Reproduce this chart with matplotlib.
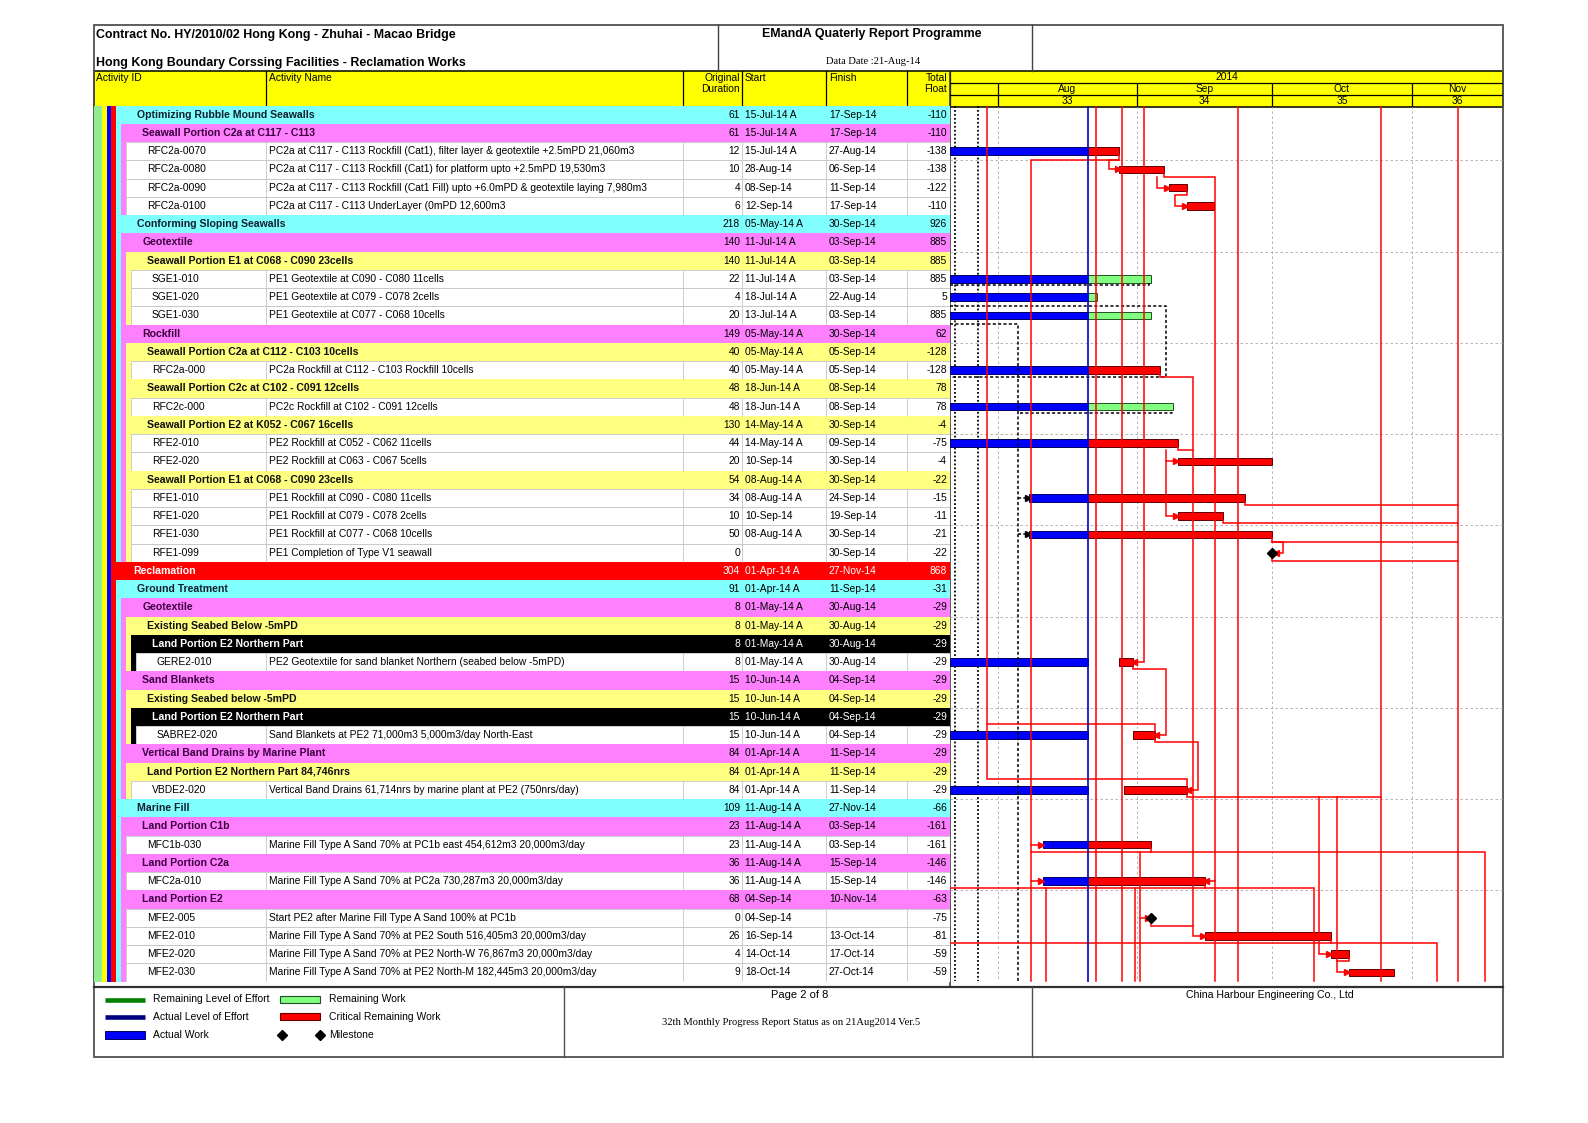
#!/usr/bin/python3
import datetime as dt

import matplotlib
matplotlib.use("Agg")
import matplotlib.pyplot as plt
from matplotlib.patches import Rectangle

plt.rcParams['font.family'] = ['Liberation Sans', 'DejaVu Sans']

# ---- schedule rows, top to bottom ----
# level: outline level of a band row (ids == ''), or the parent level of a task row
ids = ['', '', 'RFC2a-0070', 'RFC2a-0080', 'RFC2a-0090', 'RFC2a-0100',
       '', '', '', 'SGE1-010', 'SGE1-020', 'SGE1-030',
       '', '', 'RFC2a-000', '', 'RFC2c-000', '', 'RFE2-010', 'RFE2-020',
       '', 'RFE1-010', 'RFE1-020', 'RFE1-030', 'RFE1-099',
       '', '', '', '', '', 'GERE2-010', '', '', '', 'SABRE2-020',
       '', '', 'VBDE2-020', '', '', 'MFC1b-030', '', 'MFC2a-010', '',
       'MFE2-005', 'MFE2-010', 'MFE2-020', 'MFE2-030']
names = ['Optimizing Rubble Mound Seawalls',
         'Seawall Portion C2a at C117 - C113',
         'PC2a at C117 - C113 Rockfill (Cat1), filter layer & geotextile +2.5mPD 21,060m3',
         'PC2a at C117 - C113 Rockfill (Cat1) for platform upto +2.5mPD 19,530m3',
         'PC2a at C117 - C113 Rockfill (Cat1 Fill) upto +6.0mPD & geotextile laying 7,980m3',
         'PC2a at C117 - C113 UnderLayer (0mPD 12,600m3',
         'Conforming Sloping Seawalls',
         'Geotextile',
         'Seawall Portion E1 at C068 - C090 23cells',
         'PE1 Geotextile at C090 - C080 11cells',
         'PE1 Geotextile at C079 - C078 2cells',
         'PE1 Geotextile at C077 - C068 10cells',
         'Rockfill',
         'Seawall Portion C2a at C112 - C103 10cells',
         'PC2a Rockfill at C112 - C103 Rockfill 10cells',
         'Seawall Portion C2c at C102 - C091 12cells',
         'PC2c Rockfill at C102 - C091 12cells',
         'Seawall Portion E2 at K052 - C067 16cells',
         'PE2 Rockfill at C052 - C062 11cells',
         'PE2 Rockfill at C063 - C067 5cells',
         'Seawall Portion E1 at C068 - C090 23cells',
         'PE1 Rockfill at C090 - C080 11cells',
         'PE1 Rockfill at C079 - C078 2cells',
         'PE1 Rockfill at C077 - C068 10cells',
         'PE1 Completion of Type V1 seawall',
         'Reclamation',
         'Ground Treatment',
         'Geotextile',
         'Existing Seabed Below -5mPD',
         'Land Portion E2 Northern Part',
         'PE2 Geotextile for sand blanket Northern (seabed below -5mPD)',
         'Sand Blankets',
         'Existing Seabed below -5mPD',
         'Land Portion E2 Northern Part',
         'Sand Blankets at PE2 71,000m3 5,000m3/day North-East',
         'Vertical Band Drains by Marine Plant',
         'Land Portion E2 Northern Part 84,746nrs',
         'Vertical Band Drains 61,714nrs by marine plant at PE2 (750nrs/day)',
         'Marine Fill',
         'Land Portion C1b',
         'Marine Fill Type A Sand 70% at PC1b east 454,612m3 20,000m3/day',
         'Land Portion C2a',
         'Marine Fill Type A Sand 70% at PC2a 730,287m3 20,000m3/day',
         'Land Portion E2',
         'Start PE2 after Marine Fill Type A Sand 100% at PC1b',
         'Marine Fill Type A Sand 70% at PE2 South 516,405m3 20,000m3/day',
         'Marine Fill Type A Sand 70% at PE2 North-W 76,867m3 20,000m3/day',
         'Marine Fill Type A Sand 70% at PE2 North-M 182,445m3 20,000m3/day']
levels = [4, 5, 5, 5, 5, 5, 4, 5, 6, 6, 6, 6, 5, 6, 6, 6, 6, 6, 6, 6, 6, 6, 6, 6, 6,
          3, 4, 5, 6, 7, 7, 5, 6, 7, 7, 5, 6, 6, 4, 5, 5, 5, 5, 5, 5, 5, 5, 5]
durations = [61, 61, 12, 10, 4, 6, 218, 140, 140, 22, 4, 20, 149, 40, 40, 48, 48,
             130, 44, 20, 54, 34, 10, 50, 0, 304, 91, 8, 8, 8, 8, 15, 15, 15, 15,
             84, 84, 84, 109, 23, 23, 36, 36, 68, 0, 26, 4, 9]
starts = ['15-Jul-14 A', '15-Jul-14 A', '15-Jul-14 A', '28-Aug-14', '08-Sep-14',
          '12-Sep-14', '05-May-14 A', '11-Jul-14 A', '11-Jul-14 A', '11-Jul-14 A',
          '18-Jul-14 A', '13-Jul-14 A', '05-May-14 A', '05-May-14 A', '05-May-14 A',
          '18-Jun-14 A', '18-Jun-14 A', '14-May-14 A', '14-May-14 A', '10-Sep-14',
          '08-Aug-14 A', '08-Aug-14 A', '10-Sep-14', '08-Aug-14 A', '',
          '01-Apr-14 A', '01-Apr-14 A', '01-May-14 A', '01-May-14 A', '01-May-14 A',
          '01-May-14 A', '10-Jun-14 A', '10-Jun-14 A', '10-Jun-14 A', '10-Jun-14 A',
          '01-Apr-14 A', '01-Apr-14 A', '01-Apr-14 A', '11-Aug-14 A', '11-Aug-14 A',
          '11-Aug-14 A', '11-Aug-14 A', '11-Aug-14 A', '04-Sep-14', '04-Sep-14',
          '16-Sep-14', '14-Oct-14', '18-Oct-14']
finishes = ['17-Sep-14', '17-Sep-14', '27-Aug-14', '06-Sep-14', '11-Sep-14',
            '17-Sep-14', '30-Sep-14', '03-Sep-14', '03-Sep-14', '03-Sep-14',
            '22-Aug-14', '03-Sep-14', '30-Sep-14', '05-Sep-14', '05-Sep-14',
            '08-Sep-14', '08-Sep-14', '30-Sep-14', '09-Sep-14', '30-Sep-14',
            '30-Sep-14', '24-Sep-14', '19-Sep-14', '30-Sep-14', '30-Sep-14',
            '27-Nov-14', '11-Sep-14', '30-Aug-14', '30-Aug-14', '30-Aug-14',
            '30-Aug-14', '04-Sep-14', '04-Sep-14', '04-Sep-14', '04-Sep-14',
            '11-Sep-14', '11-Sep-14', '11-Sep-14', '27-Nov-14', '03-Sep-14',
            '03-Sep-14', '15-Sep-14', '15-Sep-14', '10-Nov-14', '',
            '13-Oct-14', '17-Oct-14', '27-Oct-14']
floats = [-110, -110, -138, -138, -122, -110, 926, 885, 885, 885, 5, 885, 62,
          -128, -128, 78, 78, -4, -75, -4, -22, -15, -11, -21, -22, 868, -31,
          -29, -29, -29, -29, -29, -29, -29, -29, -29, -29, -29, -66, -161, -161,
          -146, -146, -63, -75, -81, -59, -59]
# remaining work that does not resume at the data date
remaining_start = {30: '28-Aug-14', 34: '31-Aug-14', 37: '29-Aug-14'}
data_date = '21-Aug-14'

months = ['Aug', 'Sep', 'Oct', 'Nov']
weeks = ['33', '34', '35', '36']
month_starts = ['01-Aug-14', '01-Sep-14', '01-Oct-14', '01-Nov-14']

# logic lines: vertices (days after 1-Aug-14, row), arrow head at the end
links = [
    ([(-2.35, 0), (-2.35, 36.9), (42, 36.9), (42, 37.3)], None),
    ([(-2.35, 33.9), (35, 33.9), (35, 34.3)], None),
    ([(21.95, 0), (21.95, 48)], None),
    ([(27.6, 0), (27.6, 48)], None),
    ([(32.5, 0), (32.5, 30.5), (30.3, 30.5)], '<'),
    ([(53.5, 0), (53.5, 48)], None),
    ([(85.25, 0), (85.25, 48)], None),
    ([(102.3, 0), (102.3, 48)], None),
    ([(27, 2.7), (27, 2.97), (7.5, 2.97), (7.5, 48)], None),
    ([(27, 2.97), (24.7, 2.97), (24.7, 3.5), (26.7, 3.5)], '>'),
    ([(37, 3.7), (37, 3.9), (48.4, 3.9), (48.4, 48)], None),
    ([(35.4, 3.9), (35.4, 4.5), (37.7, 4.5)], '>'),
    ([(42, 4.7), (42, 4.9), (39.4, 4.9), (39.4, 5.5), (41.7, 5.5)], '>'),
    ([(36, 14.7), (36, 14.9), (43.4, 14.9), (43.4, 45.5), (45.7, 45.5)], '>'),
    ([(40, 18.7), (40, 18.9), (43.4, 18.9)], None),
    ([(37.4, 18.9), (37.4, 19.5), (39.7, 19.5)], '>'),
    ([(37.4, 19.5), (37.4, 22.5), (39.7, 22.5)], '>'),
    ([(55, 21.7), (55, 21.9), (102.3, 21.9)], None),
    ([(50, 22.7), (50, 22.9), (102.3, 22.9)], None),
    ([(61, 23.7), (61, 23.9), (102.3, 23.9)], None),
    ([(61, 23.9), (63.4, 23.9), (63.4, 24.5), (61.8, 24.5)], '<'),
    ([(61, 24.7), (61, 24.95), (102.3, 24.95)], None),
    ([(30, 30.7), (30, 30.9), (37.4, 30.9), (37.4, 34.5), (35.3, 34.5)], '<'),
    ([(35, 34.7), (35, 34.9), (44.5, 34.9), (44.5, 37.5), (42.3, 37.5)], '<'),
    ([(42, 37.7), (42, 37.9), (85.25, 37.9)], None),
    ([(71.4, 37.9), (71.4, 46.5), (73.7, 46.5)], '>'),
    ([(75.4, 37.9), (75.4, 47.5), (77.7, 47.5)], '>'),
    ([(7.5, 40.5), (9.7, 40.5)], '>'),
    ([(7.5, 42.5), (9.7, 42.5)], '>'),
    ([(7.5, 40.9), (108.3, 40.9), (108.3, 48)], None),
    ([(34, 40.7), (34, 40.9)], None),
    ([(31.6, 40.9), (31.6, 48)], None),
    ([(31.6, 44.5), (33.4, 44.5)], '>'),
    ([(48.4, 42.5), (46.3, 42.5)], '<'),
    ([(46, 42.7), (46, 42.9)], None),
    ([(-10.6, 42.9), (70.3, 42.9), (70.3, 48)], None),
    ([(10.75, 42.9), (10.75, 48)], None),
    ([(30.5, 42.9), (30.5, 48)], None),
    ([(34, 44.7), (34, 44.95), (43.4, 44.95)], None),
    ([(74, 45.7), (74, 45.9)], None),
    ([(-10.6, 45.9), (97.6, 45.9), (97.6, 48)], None),
    ([(78, 46.7), (78, 46.9), (75.4, 46.9)], None),
]
# target (baseline) outlines and their logic, dashed black
baseline_links = [
    ([(-10.6, 9.85), (33.7, 9.85), (33.7, 9.7)], None),
    ([(-10.6, 11.0), (37.4, 11.0), (37.4, 14.9), (-10.6, 14.9)], None),
    ([(-10.6, 11.95), (4.5, 11.95), (4.5, 48)], None),
    ([(5, 16.85), (38.7, 16.85), (38.7, 16.7)], None),
    ([(4.5, 21.5), (6.7, 21.5)], '>'),
    ([(4.5, 23.5), (6.7, 23.5)], '>'),
]

# ---- layout (pixels of the 1588x1123 page) ----
W, H = 1588, 1123
LEFT, RIGHT, TOP, BOTTOM = 94, 1503, 25, 1057
HEAD_Y0, HEAD_Y1 = 70.7, 107
ROW_TOP, ROW_BOT = 105.5, 981.5
GANTT_L = 950
col_x = [266, 683, 742, 826, 907]
stripe_x = [94.5, 102.5, 107.5, 111.5, 116, 121, 126, 131, 136]
level_colors = ['#90EE90', '#FFFF00', '#0000FF', '#FF0000', '#80FFFF',
                '#FF80FF', '#FFFF80', '#000000']
band_fg = {3: 'white', 4: '#102030', 5: '#3C0040', 6: '#101010', 7: 'white'}
FS = 7.35
FS_B = 7.6
AUG1 = dt.datetime(2014, 8, 1)
X0, X1 = -10.58, 112.3


def day(s):
    return (dt.datetime.strptime(s[:9], '%d-%b-%y') - AUG1).days


fig = plt.figure(figsize=(W / 100, H / 100), dpi=100)


def fax(x0, y0, x1, y1):
    a = fig.add_axes([x0 / W, 1 - y1 / H, (x1 - x0) / W, (y1 - y0) / H])
    a.axis('off')
    return a


bg = fax(0, 0, W, H)
bg.set_xlim(0, W)
bg.set_ylim(H, 0)

n = len(ids)
tax = fax(LEFT, ROW_TOP, GANTT_L, ROW_BOT)
tax.set_xlim(LEFT, GANTT_L)
tax.set_ylim(n, 0)
gax = fax(GANTT_L, ROW_TOP, RIGHT, ROW_BOT)
gax.set_xlim(X0, X1)
gax.set_ylim(n, 0)
hax = fax(GANTT_L, HEAD_Y0, RIGHT, HEAD_Y1)
hax.set_xlim(X0, X1)
hax.set_ylim(3, 0)

# ---- page header ----
serif = ['Liberation Serif', 'DejaVu Serif']
bg.text(96, 35, 'Contract No. HY/2010/02 Hong Kong - Zhuhai - Macao Bridge',
        fontsize=8.9, weight='bold', va='center')
bg.text(96, 63, 'Hong Kong Boundary Corssing Facilities - Reclamation Works',
        fontsize=8.9, weight='bold', va='center')
bg.text(872, 34.5, 'EMandA Quaterly Report Programme', fontsize=8.9, weight='bold',
        ha='center', va='center')
bg.text(873, 61.5, 'Data Date :' + data_date, fontsize=7.6, ha='center', va='center',
        family=serif)
bg.plot([717.7, 717.7], [TOP, HEAD_Y0], color='#404040', lw=1)
bg.plot([1031.7, 1031.7], [TOP, HEAD_Y0], color='#404040', lw=1)

# ---- column header ----
bg.add_patch(Rectangle((LEFT, HEAD_Y0), RIGHT - LEFT, HEAD_Y1 - HEAD_Y0,
                       facecolor='#FFFF00', edgecolor='black', lw=1.1))
for x in col_x + [GANTT_L]:
    bg.plot([x, x], [HEAD_Y0, HEAD_Y1], color='black', lw=0.9)
hdr = dict(fontsize=FS, va='top')
bg.text(95.5, 72.8, 'Activity ID', **hdr)
bg.text(269, 72.8, 'Activity Name', **hdr)
bg.text(740, 72.8, 'Original\nDuration', ha='right', linespacing=1.2, **hdr)
bg.text(745, 72.8, 'Start', **hdr)
bg.text(829, 72.8, 'Finish', **hdr)
bg.text(947, 72.8, 'Total\nFloat', ha='right', linespacing=1.2, **hdr)

# timescale header
hax.axhline(1, color='black', lw=0.9)
hax.axhline(2, color='black', lw=0.9)
ms = [day(m) for m in month_starts]
hax.vlines(ms, 1, 3, colors='black', lw=0.9)
hax.text((X0 + X1) / 2, 0.5, '2014', fontsize=FS, ha='center', va='center')
edges = ms + [X1]
for k in range(len(months)):
    cx = (edges[k] + edges[k + 1]) / 2
    hax.text(cx, 1.5, months[k], fontsize=FS, ha='center', va='center')
    hax.text(cx, 2.5, weeks[k], fontsize=FS, ha='center', va='center')

# ---- table body ----
for i in range(n):
    lv = levels[i]
    band = ids[i] == ''
    last = lv if band else lv + 1
    for j in range(last):
        tax.add_patch(Rectangle((stripe_x[j], i), stripe_x[j + 1] - stripe_x[j], 1,
                                facecolor=level_colors[j], lw=0))
    cy = i + 0.5
    if band:
        tax.add_patch(Rectangle((stripe_x[lv], i), GANTT_L - stripe_x[lv], 1,
                                facecolor=level_colors[lv], lw=0))
        fg = band_fg[lv]
        tax.text(stripe_x[lv] + 21.5, cy, names[i], fontsize=FS_B, weight='bold',
                 color=fg, va='center')
        num_fg = fg if lv in (3, 7) else 'black'
    else:
        x0 = stripe_x[lv + 1]
        tax.add_patch(Rectangle((x0, i), GANTT_L - x0, 1, facecolor='white',
                                edgecolor='#C4C4C4', lw=0.6))
        tax.vlines(col_x, i, i + 1, colors='#C4C4C4', lw=0.6)
        tax.text(x0 + 21, cy, ids[i], fontsize=FS, va='center')
        tax.text(269.5, cy, names[i], fontsize=FS, va='center')
        num_fg = 'black'
    tax.text(740, cy, str(durations[i]), fontsize=FS, ha='right', va='center', color=num_fg)
    tax.text(745, cy, starts[i], fontsize=FS, va='center', color=num_fg)
    tax.text(829, cy, finishes[i], fontsize=FS, va='center', color=num_fg)
    tax.text(947, cy, str(floats[i]), fontsize=FS, ha='right', va='center', color=num_fg)

# ---- gantt ----
gax.vlines(ms, 0, n, colors='#A8A8A8', linestyles=(0, (3, 3)), lw=0.6, zorder=1)
gax.hlines(range(3, n, 5), X0, X1, colors='#A8A8A8', linestyles=(0, (3, 3)), lw=0.6, zorder=1)
gax.vlines([-9.55, -4.3], 0, n, colors='black', linestyles=(0, (1, 1.2)), lw=1.3, zorder=1)

dd = day(data_date)
BH = 0.42
for i in range(n):
    if ids[i] == '':
        continue
    if durations[i] == 0:
        x = day(finishes[i]) + 1 if finishes[i] else day(starts[i])
        gax.plot(x, i + 0.5, marker='D', ms=5, color='black', zorder=5)
        continue
    end = day(finishes[i]) + 1
    rem_col, rem_edge = ('#FF0000', '#600000') if floats[i] <= 0 else ('#80FF80', '#205020')
    if starts[i].endswith('A'):
        s = max(day(starts[i]), X0)
        gax.add_patch(Rectangle((s, i + 0.5 - BH / 2), dd - s, BH, facecolor='#0000FF',
                                edgecolor='#000060', lw=0.7, zorder=2))
        rs = day(remaining_start[i]) if i in remaining_start else dd
    else:
        rs = day(starts[i])
    gax.add_patch(Rectangle((rs, i + 0.5 - BH / 2), end - rs, BH, facecolor=rem_col,
                            edgecolor=rem_edge, lw=0.7, zorder=2))


def draw_links(items, color, style, z):
    for pts, head in items:
        xs = [p[0] for p in pts]
        ys = [p[1] for p in pts]
        gax.plot(xs, ys, color=color, lw=1.1, linestyle=style, zorder=z,
                 solid_joinstyle='miter')
        if head:
            gax.plot(xs[-1], ys[-1], marker=head, ms=4.5, color=color, zorder=z)


draw_links(baseline_links, 'black', (0, (2, 1.5)), 3)
draw_links(links, '#FF0000', '-', 4)
gax.axvline(dd, color='#0000CC', lw=1.2, zorder=4)

# ---- frame ----
bg.add_patch(Rectangle((LEFT, TOP), RIGHT - LEFT, BOTTOM - TOP, fill=False,
                       edgecolor='#505050', lw=1.3))
bg.plot([GANTT_L, GANTT_L], [HEAD_Y0, 986.5], color='#303030', lw=1.1)
bg.plot([LEFT, RIGHT], [986.5, 986.5], color='#303030', lw=1.6)
bg.plot([564, 564], [986.5, BOTTOM], color='#505050', lw=1)
bg.plot([1031.7, 1031.7], [986.5, BOTTOM], color='#505050', lw=1)

# ---- legend ----
lg = dict(fontsize=7.5, va='center')
bg.plot([105, 145], [999.5, 999.5], color='#008000', lw=3.3, solid_capstyle='butt')
bg.plot([105, 145], [1016.7, 1016.7], color='#000080', lw=3.3, solid_capstyle='butt')
bg.add_patch(Rectangle((105, 1031.2), 40, 7.4, facecolor='#0000FF', edgecolor='#000060', lw=0.7))
bg.text(153, 999.5, 'Remaining Level of Effort', **lg)
bg.text(153, 1016.7, 'Actual Level of Effort', **lg)
bg.text(153, 1035, 'Actual Work', **lg)
bg.add_patch(Rectangle((280, 995.8), 40, 7.4, facecolor='#80FF80', edgecolor='#205020', lw=0.8))
bg.add_patch(Rectangle((280, 1013), 40, 7.4, facecolor='#FF0000', edgecolor='#600000', lw=0.8))
bg.plot([282, 320], [1035, 1035], linestyle='none', marker='D', ms=5, color='black')
bg.text(329, 999.5, 'Remaining Work', **lg)
bg.text(329, 1016.7, 'Critical Remaining Work', **lg)
bg.text(329, 1035, 'Milestone', **lg)

narrow = ['Liberation Sans Narrow', 'Liberation Sans', 'DejaVu Sans']
bg.text(800, 995.5, 'Page 2 of 8', fontsize=8, ha='center', va='center', family=narrow)
bg.text(791, 1022.5, '32th Monthly Progress Report Status as on 21Aug2014 Ver.5',
        fontsize=7.6, ha='center', va='center', family=serif)
bg.text(1270, 995.5, 'China Harbour Engineering Co., Ltd', fontsize=7.6, ha='center',
        va='center', family=narrow)

fig.savefig('out.png', dpi=100)
